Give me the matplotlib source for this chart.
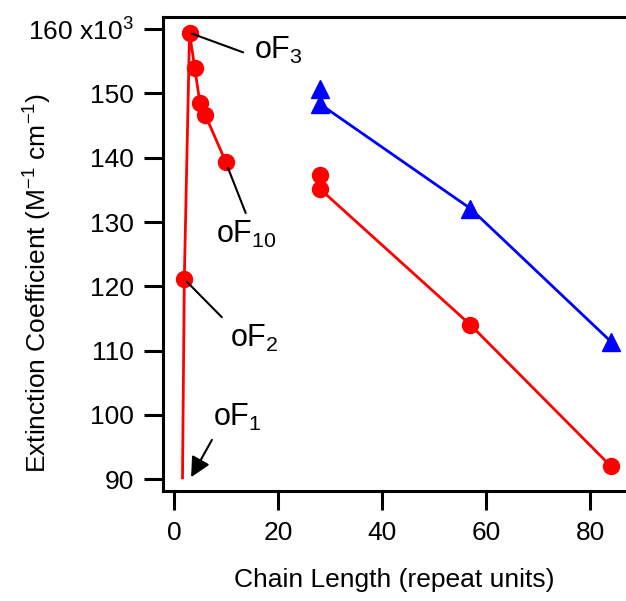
import matplotlib
matplotlib.use('Agg')
import matplotlib.pyplot as plt
import numpy as np

plt.rcParams['font.family'] = ['Liberation Sans', 'DejaVu Sans']
plt.rcParams['mathtext.fontset'] = 'custom'
plt.rcParams['mathtext.rm'] = 'Liberation Sans'
plt.rcParams['mathtext.it'] = 'Liberation Sans:italic'

# oligomers oF1..oF10 (oF1 has no marker, only the line end)
olig_x = [1.65, 2, 3, 4, 5, 6, 10]
olig_y = [90.2, 121.2, 159.4, 154.0, 148.5, 146.7, 139.3]

# polymers, red circles
poly_x = [28, 28, 57, 84]
poly_y = [137.3, 135.2, 114.0, 92.0]

# polymers, blue triangles
tri_x = [28, 28, 57, 84]
tri_y = [150.7, 148.4, 132.1, 111.4]

yticks = [90, 100, 110, 120, 130, 140, 150, 160]
ytick_labels = ['90', '100', '110', '120', '130', '140', '150', '160 x10$^{3}$']
xticks = [0, 20, 40, 60, 80]

# labels: text, point on marker, end of leader line, text position
notes = [
    ('oF$_{3}$', (3.5, 159.3), (13.3, 156.4), (15.4, 155.45)),
    ('oF$_{10}$', (10.4, 138.4), (13.8, 131.4), (8.1, 126.7)),
    ('oF$_{2}$', (2.5, 120.7), (9.2, 115.2), (10.8, 110.6)),
]

fig = plt.figure(figsize=(6.26, 6.01), dpi=100)
ax = fig.add_axes([163 / 626, 1 - 490.7 / 601, 1 - 163 / 626, (490.7 - 17) / 601])

red = '#ff0000'
blue = '#0000ff'
ax.plot(olig_x, olig_y, color=red, lw=2, marker='o', ms=11.5,
        markevery=list(range(1, len(olig_x))), clip_on=False)
ax.plot(poly_x, poly_y, color=red, lw=2, marker='o', ms=11.5, clip_on=False)
ax.plot(tri_x, tri_y, color=blue, lw=2, marker='^', ms=13, clip_on=False)

for label, p0, p1, pt in notes:
    ax.annotate('', xy=p0, xytext=p1,
                arrowprops=dict(arrowstyle='-', lw=1.5, color='k',
                                shrinkA=0, shrinkB=0))
    ax.text(pt[0], pt[1], label, fontsize=22, ha='left', va='baseline')

ax.annotate('', xy=(3.3, 90.3), xytext=(7.3, 96.1),
            arrowprops=dict(arrowstyle='-|>', lw=1.5, color='k',
                            mutation_scale=30, shrinkA=0, shrinkB=0))
ax.text(7.5, 98.25, 'oF$_{1}$', fontsize=22, ha='left', va='baseline')

ax.set_xlim(-2.1, 86.9)
ax.set_ylim(88.2, 161.9)
ax.set_xticks(xticks)
ax.set_yticks(yticks)
ax.set_yticklabels(ytick_labels)

ax.spines['right'].set_visible(False)
for s in ['left', 'bottom', 'top']:
    ax.spines[s].set_linewidth(2.2)
ax.tick_params(axis='both', direction='out', length=14, width=2.2, labelsize=19)
ax.tick_params(axis='x', pad=8)
ax.tick_params(axis='y', pad=7)
ax.tick_params(top=False, right=False)

fig.text(394 / 626, 1 - 580 / 601, 'Chain Length (repeat units)', fontsize=19,
         ha='center', va='center')
fig.text(38 / 626, 1 - 283 / 601,
         'Extinction Coefficient (M$^{-1}$ cm$^{-1}$)', fontsize=19,
         ha='center', va='center', rotation=90)

fig.savefig('out.png', dpi=100)
